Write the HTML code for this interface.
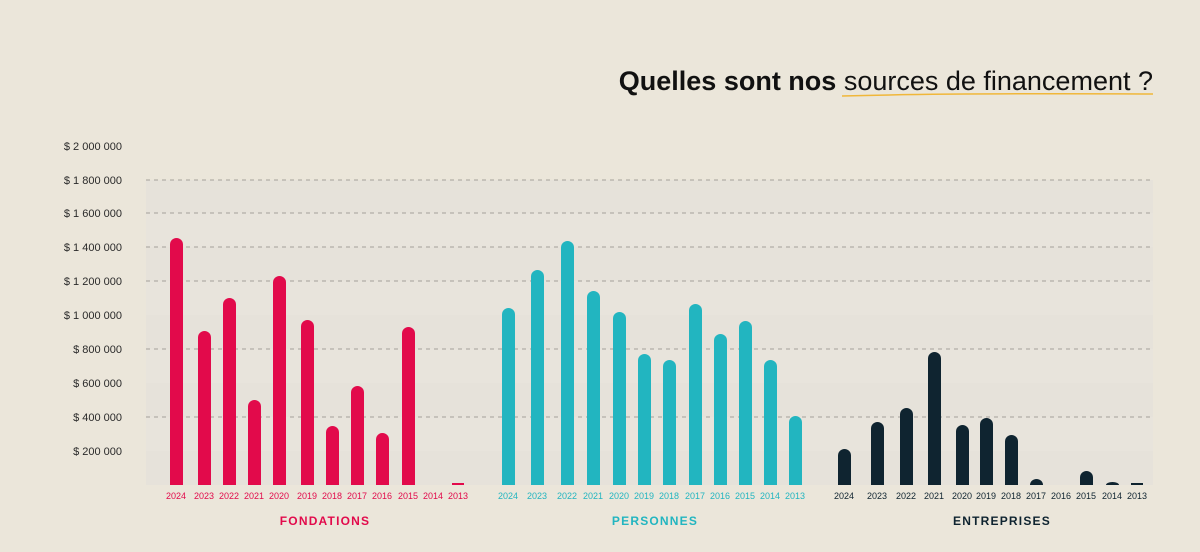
<!DOCTYPE html>
<html><head><meta charset="utf-8"><style>
html,body{margin:0;padding:0;background:#ebe6da;}
svg{display:block;font-family:"Liberation Sans",sans-serif;}
</style></head><body>
<svg width="1200" height="552" viewBox="0 0 1200 552" xmlns="http://www.w3.org/2000/svg">
<rect width="1200" height="552" fill="#ebe6da"/>
<rect x="146" y="180" width="1007" height="305" fill="#e8e4dc"/>
<rect x="146" y="180" width="1007" height="33" fill="#e6e2da"/>
<rect x="146" y="247" width="1007" height="34" fill="#e6e2da"/>
<rect x="146" y="315" width="1007" height="34" fill="#e6e2da"/>
<rect x="146" y="383" width="1007" height="34" fill="#e6e2da"/>
<rect x="146" y="451" width="1007" height="34" fill="#e6e2da"/>
<g stroke="#8f8b84" stroke-width="0.8" stroke-dasharray="4,4">
<line x1="146" y1="180" x2="1153" y2="180"/><line x1="146" y1="213" x2="1153" y2="213"/>
<line x1="146" y1="247" x2="1153" y2="247"/><line x1="146" y1="281" x2="1153" y2="281"/>
<line x1="146" y1="349" x2="1153" y2="349"/><line x1="146" y1="417" x2="1153" y2="417"/>
</g>
<g font-size="11" fill="#2a2a2a" text-anchor="end">
<text x="122" y="150">$ 2 000 000</text><text x="122" y="184">$ 1 800 000</text>
<text x="122" y="217">$ 1 600 000</text><text x="122" y="251">$ 1 400 000</text>
<text x="122" y="285">$ 1 200 000</text><text x="122" y="319">$ 1 000 000</text>
<text x="122" y="353">$ 800 000</text><text x="122" y="387">$ 600 000</text>
<text x="122" y="421">$ 400 000</text><text x="122" y="455">$ 200 000</text>
</g>
<text x="1153" y="90" text-anchor="end" font-size="27" fill="#111"><tspan font-weight="bold" font-size="27">Quelles sont nos</tspan> sources de financement ?</text>
<path d="M842 96 Q950 93 1153 94" stroke="#f0b73a" stroke-width="1.5" fill="none"/>
<g fill="#e20a4b">
<path d="M170 485V244.5a6.5 6.5 0 0 1 13 0V485Z"/>
<path d="M198 485V337.5a6.5 6.5 0 0 1 13 0V485Z"/>
<path d="M223 485V304.5a6.5 6.5 0 0 1 13 0V485Z"/>
<path d="M248 485V406.5a6.5 6.5 0 0 1 13 0V485Z"/>
<path d="M273 485V282.5a6.5 6.5 0 0 1 13 0V485Z"/>
<path d="M301 485V326.5a6.5 6.5 0 0 1 13 0V485Z"/>
<path d="M326 485V432.5a6.5 6.5 0 0 1 13 0V485Z"/>
<path d="M351 485V392.5a6.5 6.5 0 0 1 13 0V485Z"/>
<path d="M376 485V439.5a6.5 6.5 0 0 1 13 0V485Z"/>
<path d="M402 485V333.5a6.5 6.5 0 0 1 13 0V485Z"/>
<rect x="452" y="483" width="12" height="2"/>
</g>
<g fill="#22b5c0">
<path d="M502 485V314.5a6.5 6.5 0 0 1 13 0V485Z"/>
<path d="M531 485V276.5a6.5 6.5 0 0 1 13 0V485Z"/>
<path d="M561 485V247.5a6.5 6.5 0 0 1 13 0V485Z"/>
<path d="M587 485V297.5a6.5 6.5 0 0 1 13 0V485Z"/>
<path d="M613 485V318.5a6.5 6.5 0 0 1 13 0V485Z"/>
<path d="M638 485V360.5a6.5 6.5 0 0 1 13 0V485Z"/>
<path d="M663 485V366.5a6.5 6.5 0 0 1 13 0V485Z"/>
<path d="M689 485V310.5a6.5 6.5 0 0 1 13 0V485Z"/>
<path d="M714 485V340.5a6.5 6.5 0 0 1 13 0V485Z"/>
<path d="M739 485V327.5a6.5 6.5 0 0 1 13 0V485Z"/>
<path d="M764 485V366.5a6.5 6.5 0 0 1 13 0V485Z"/>
<path d="M789 485V422.5a6.5 6.5 0 0 1 13 0V485Z"/>
</g>
<g fill="#0f2430">
<path d="M838 485V455.5a6.5 6.5 0 0 1 13 0V485Z"/>
<path d="M871 485V428.5a6.5 6.5 0 0 1 13 0V485Z"/>
<path d="M900 485V414.5a6.5 6.5 0 0 1 13 0V485Z"/>
<path d="M928 485V358.5a6.5 6.5 0 0 1 13 0V485Z"/>
<path d="M956 485V431.5a6.5 6.5 0 0 1 13 0V485Z"/>
<path d="M980 485V424.5a6.5 6.5 0 0 1 13 0V485Z"/>
<path d="M1005 485V441.5a6.5 6.5 0 0 1 13 0V485Z"/>
<path d="M1030 485a6.5 6 0 0 1 13 0Z"/>
<path d="M1080 485V477.5a6.5 6.5 0 0 1 13 0V485Z"/>
<path d="M1106 485a6.5 3 0 0 1 13 0Z"/>
<rect x="1131" y="483" width="12" height="2"/>
</g>
<g font-size="9" text-anchor="middle" fill="#e20a4b">
<text x="176" y="499">2024</text><text x="204" y="499">2023</text><text x="229" y="499">2022</text><text x="254" y="499">2021</text><text x="279" y="499">2020</text><text x="307" y="499">2019</text><text x="332" y="499">2018</text><text x="357" y="499">2017</text><text x="382" y="499">2016</text><text x="408" y="499">2015</text><text x="433" y="499">2014</text><text x="458" y="499">2013</text>
</g>
<g font-size="9" text-anchor="middle" fill="#22b5c0">
<text x="508" y="499">2024</text><text x="537" y="499">2023</text><text x="567" y="499">2022</text><text x="593" y="499">2021</text><text x="619" y="499">2020</text><text x="644" y="499">2019</text><text x="669" y="499">2018</text><text x="695" y="499">2017</text><text x="720" y="499">2016</text><text x="745" y="499">2015</text><text x="770" y="499">2014</text><text x="795" y="499">2013</text>
</g>
<g font-size="9" text-anchor="middle" fill="#0f2430">
<text x="844" y="499">2024</text><text x="877" y="499">2023</text><text x="906" y="499">2022</text><text x="934" y="499">2021</text><text x="962" y="499">2020</text><text x="986" y="499">2019</text><text x="1011" y="499">2018</text><text x="1036" y="499">2017</text><text x="1061" y="499">2016</text><text x="1086" y="499">2015</text><text x="1112" y="499">2014</text><text x="1137" y="499">2013</text>
</g>
<g font-size="12" font-weight="bold" text-anchor="middle" letter-spacing="1.2">
<text x="325" y="525" fill="#e20a4b">FONDATIONS</text>
<text x="655" y="525" fill="#22b5c0">PERSONNES</text>
<text x="1002" y="525" fill="#0f2430">ENTREPRISES</text>
</g>
</svg>
</body></html>
